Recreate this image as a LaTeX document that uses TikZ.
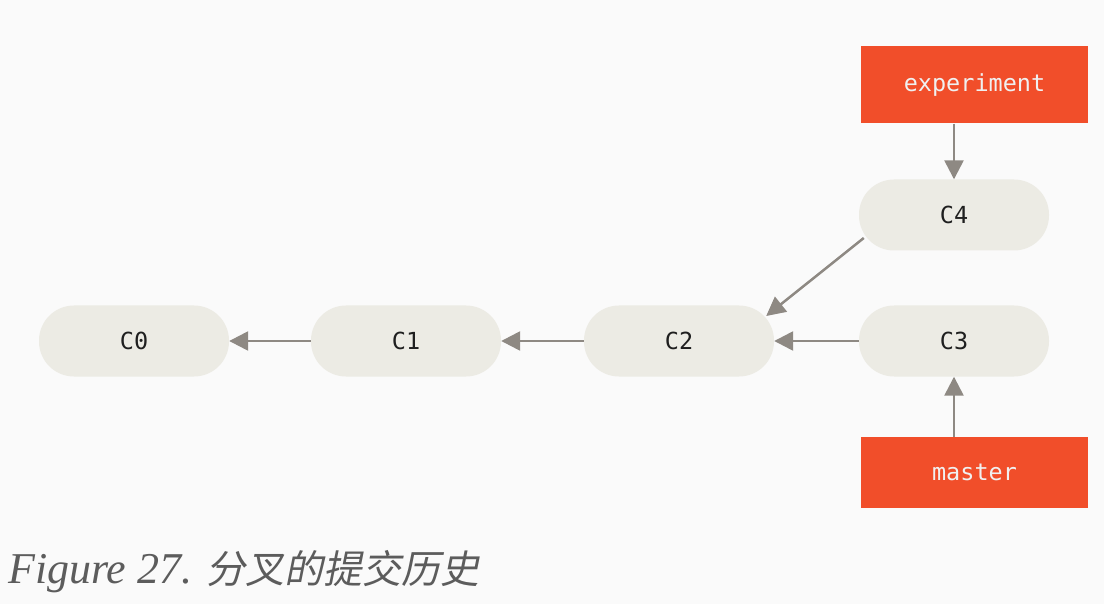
\documentclass[tikz,border=0pt]{standalone}
\usepackage{fontspec}
\setmonofont{DejaVu Sans Mono}
\newfontfamily\capfont{Liberation Serif}
\newfontfamily\capcjk[FakeSlant=0.2]{Noto Sans CJK SC}
\usepackage{tikz}
\usetikzlibrary{calc}
\usetikzlibrary{shapes,arrows.meta}

\definecolor{bgcol}{HTML}{FAFAFA}
\definecolor{commitcol}{HTML}{ECEBE4}
\definecolor{refcol}{HTML}{F14E2A}
\definecolor{arrcol}{HTML}{8E8983}
\definecolor{capcol}{HTML}{5C5C5C}

\tikzset{
  commit/.style={fill=commitcol, rounded corners=35pt, minimum width=190pt,
    minimum height=71pt, inner sep=0pt, text=black!88,
    font=\ttfamily\fontsize{23.5}{28}\selectfont},
  branch/.style={fill=refcol, minimum width=227pt, inner sep=0pt,
    text=white!94!black, font=\ttfamily\fontsize{23.5}{28}\selectfont},
  parent/.style={draw=arrcol, line width=2.5pt, -{Triangle[length=19pt,width=19pt]}}
}

\begin{document}
\begin{tikzpicture}[x=1pt, y=-1pt]
    \useasboundingbox [fill=bgcol] (0,0) rectangle (1104,604);

    \coordinate (A0) at (134,341);
    \coordinate (A1) at (406,341);
    \coordinate (A2) at (679,341);
    \coordinate (A3) at (954,341);
    \coordinate (A4) at (954,215);
    \coordinate (B1) at (974.5,85);
    \coordinate (B2) at (974.5,472.5);

    \node [commit] (C0) at (A0) {C0};
    \node [commit] (C1) at (A1) {C1};
    \node [commit] (C2) at (A2) {C2};
    \node [commit] (C3) at (A3) {C3};
    \node [commit] (C4) at (A4) {C4};
    \node [branch, minimum height=77pt] (experiment) at (B1) {experiment};
    \node [branch, minimum height=71pt] (master) at (B2) {master};

    \draw [parent] (C1.west) -- (C0.east);
    \draw [parent] (C2.west) -- (C1.east);
    \draw [parent] (C3.west) -- (C2.east);
    \draw [parent] ($(C4.west)+(5,23)$) -- ($(C2.east)+(-8,-25)$);
    \draw [parent] (C4.north |- experiment.south) -- (C4.north);
    \draw [parent] (C3.south |- master.north) -- (C3.south);

    \node [anchor=base west, inner sep=0pt, text=capcol] (caption) at (8,583)
      {\capfont\itshape\fontsize{44}{50}\selectfont Figure 27. \capcjk\fontsize{39}{50}\selectfont 分叉的提交历史};
  \end{tikzpicture}
\end{document}
